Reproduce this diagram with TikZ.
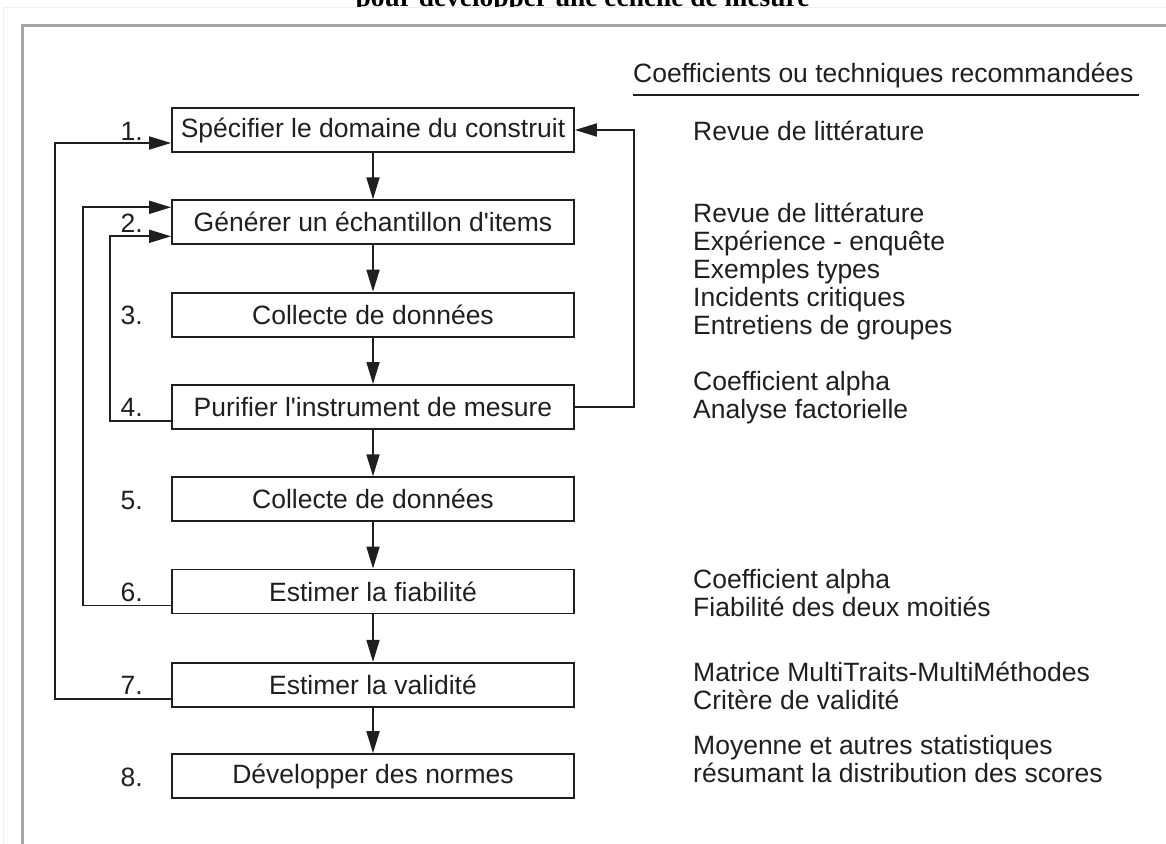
\documentclass[tikz,border=0pt]{standalone}
\usepackage{fontspec}
\setmainfont{Liberation Sans}
\newfontfamily\titlefont{Liberation Serif}
\usetikzlibrary{arrows.meta,calc}
\definecolor{ink}{HTML}{1F1F1F}
\definecolor{framegray}{HTML}{A6A6A6}
\definecolor{faint}{HTML}{EFEFEF}
\newcommand{\apos}{\textquotesingle}
\tikzset{
  stepbox/.style={draw=ink, line width=1.8pt, minimum width=402pt, minimum height=44pt, inner sep=0pt, text=ink, font=\fontsize{26.5}{28}\selectfont},
  numlbl/.style={anchor=base east, inner sep=0pt, text=ink, font=\fontsize{26.5}{28}\selectfont},
  techtxt/.style={anchor=base west, inner sep=0pt, text=ink, font=\fontsize{26.5}{28}\selectfont},
  conn/.style={draw=ink, line width=1.8pt},
  arr/.style={conn, -{Triangle[length=22pt, width=13pt]}},
}
\begin{document}
\begin{tikzpicture}[x=1pt,y=-1pt]
\useasboundingbox (0,0) rectangle (1166,843);
% title (cut off at top and bottom by the page)
\begin{scope}
\clip (0,-40) rectangle (1166,8);
\node[anchor=base, inner sep=0pt, font=\titlefont\bfseries\fontsize{27.4}{30}\selectfont] (title) at (582.5,7) {pour développer une échelle de mesure};
\end{scope}
% frame
\draw[faint, line width=1pt] (3,900) -- (3,8) -- (1200,8);
\draw[framegray, line width=3pt] (22,900) -- (22,25.5) -- (1200,25.5);
% boxes
\node[stepbox] (b1) at (373,130.0) {Spécifier le domaine du construit};
\node[stepbox] (b2) at (373,222.3) {Générer un échantillon d\apos items};
\node[stepbox] (b3) at (373,314.6) {Collecte de données};
\node[stepbox] (b4) at (373,406.9) {Purifier l\apos instrument de mesure};
\node[stepbox] (b5) at (373,499.2) {Collecte de données};
\node[stepbox] (b6) at (373,591.5) {Estimer la fiabilité};
\node[stepbox] (b7) at (373,684.8) {Estimer la validité};
\node[stepbox] (b8) at (373,776.1) {Développer des normes};
% numbers
\node[numlbl] (n1) at (143,140.0) {1.};
\node[numlbl] (n2) at (143,232.3) {2.};
\node[numlbl] (n3) at (143,324.6) {3.};
\node[numlbl] (n4) at (143,416.9) {4.};
\node[numlbl] (n5) at (143,509.2) {5.};
\node[numlbl] (n6) at (143,601.5) {6.};
\node[numlbl] (n7) at (143,694.8) {7.};
\node[numlbl] (n8) at (143,786.1) {8.};
% down arrows
\foreach \a/\b in {b1/b2,b2/b3,b3/b4,b4/b5,b5/b6,b6/b7,b7/b8}
  \draw[arr] (\a) -- (\b);
% feedback loops
\draw[arr] ($(b7.west)+(0,14)$) -- ++(-116,0) |- ($(b1.west)+(0,13)$);
\draw[arr] ($(b6.west)+(0,14)$) -- ++(-88,0) |- ($(b2.west)+(0,-15)$);
\draw[arr] ($(b4.west)+(0,14)$) -- ++(-61,0) |- ($(b2.west)+(0,14)$);
\draw[arr] (b4.east) -- ++(59,0) |- (b1.east);
% right column
\node[techtxt] (hdr) at (633,82) {Coefficients ou techniques recommandées};
\coordinate (ulA) at (633,95);
\coordinate (ulB) at (1139,95);
\draw[conn] (ulA) -- (ulB);
\node[techtxt] (t1) at (693,140) {Revue de littérature};
\node[techtxt] (t2a) at (693,222) {Revue de littérature};
\node[techtxt] (t2b) at (693,250) {Expérience - enquête};
\node[techtxt] (t2c) at (693,278) {Exemples types};
\node[techtxt] (t2d) at (693,306) {Incidents critiques};
\node[techtxt] (t2e) at (693,334) {Entretiens de groupes};
\node[techtxt] (t4a) at (693,390) {Coefficient alpha};
\node[techtxt] (t4b) at (693,418) {Analyse factorielle};
\node[techtxt] (t6a) at (693,588) {Coefficient alpha};
\node[techtxt] (t6b) at (693,616) {Fiabilité des deux moitiés};
\node[techtxt] (t7a) at (693,681) {Matrice MultiTraits-MultiMéthodes};
\node[techtxt] (t7b) at (693,709) {Critère de validité};
\node[techtxt] (t8a) at (693,754) {Moyenne et autres statistiques};
\node[techtxt] (t8b) at (693,782) {résumant la distribution des scores};
\end{tikzpicture}
\end{document}
